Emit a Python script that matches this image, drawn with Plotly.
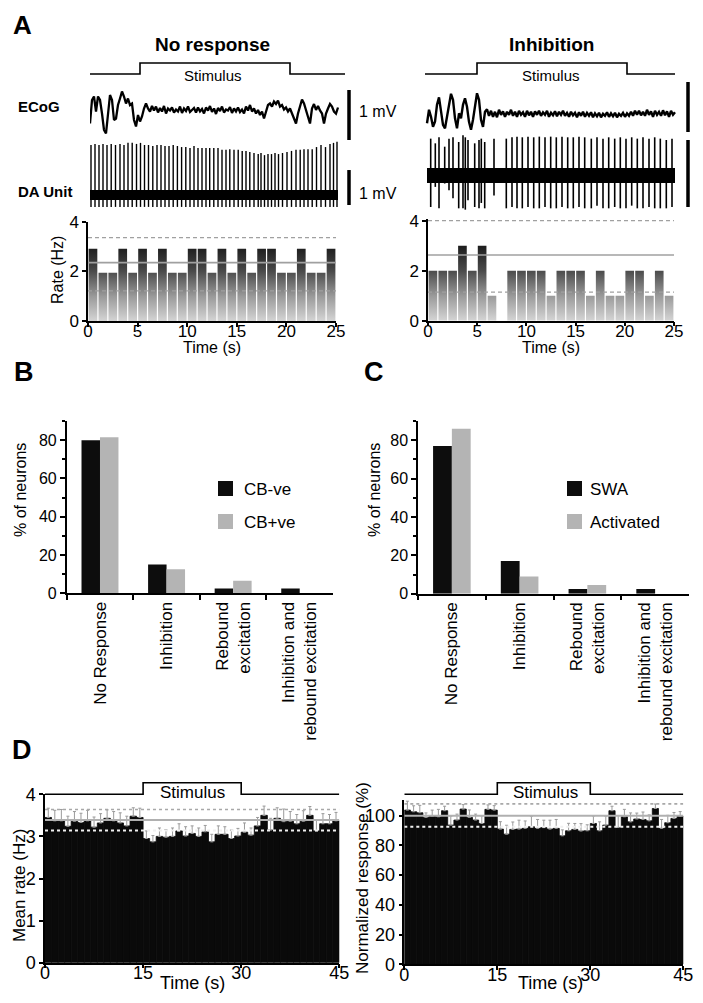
import numpy as np
import plotly.graph_objects as go

# Screen size of the photographed page and the figure size inside it
# (the page body keeps its default 8px margin).
SCR_W, SCR_H = 703, 1003
OFF = 8
FW, FH = SCR_W - 2 * OFF, SCR_H - 2 * OFF
FONT = "Liberation Sans, Arial, Helvetica, sans-serif"

# ---------------- Panel A data ----------------
stim_on_A = 5.0
stim_off_A = 20.0
stim_left_end = 25.5
stim_right_start = -0.2
stim_right_end = 24.8

ecog_dt = 0.2
ecog_left_mv = [
    -0.27, 0.20, 0.27, -0.03, 0.27, 0.20, -0.07, -0.40, -0.47, 0.00,
    0.30, 0.20, -0.20, -0.17, 0.10, 0.23, 0.37, 0.27, 0.13, 0.23,
    0.10, 0.13, -0.20, -0.33, -0.10, -0.23, -0.13, 0.03, 0.13, 0.03,
    -0.03, 0.08, -0.01, 0.07, -0.05, 0.04, -0.03, 0.08, -0.07, 0.03,
    -0.01, 0.05, -0.05, 0.01, -0.03, 0.07, -0.06, 0.03, -0.02, 0.07,
    -0.04, 0.00, 0.04, -0.05, 0.05, -0.03, 0.02, -0.07, 0.05, -0.01,
    0.08, -0.04, 0.03, -0.08, 0.04, -0.02, 0.07, -0.05, 0.01, -0.01,
    0.06, -0.06, 0.03, -0.03, 0.05, -0.04, 0.01, -0.07, 0.07, -0.01,
    0.10, -0.03, 0.03, -0.07, 0.00, -0.10, -0.03, -0.17, -0.03, 0.10,
    0.13, 0.07, 0.17, 0.12, 0.19, 0.07, 0.10, 0.01, 0.05, -0.03,
    0.03, -0.07, -0.19, -0.27, -0.07, 0.10, 0.21, 0.13, 0.00, -0.17,
    -0.27, 0.03, 0.12, 0.00, 0.08, -0.01, -0.07, -0.27, -0.07, 0.03,
    0.12, 0.07, -0.03, -0.07, 0.05,
]
ecog_right_mv = [
    -0.20, 0.07, -0.07, -0.27, -0.17, 0.17, 0.32, 0.07, -0.23, -0.30,
    -0.07, 0.20, 0.39, 0.27, -0.10, -0.30, 0.00, -0.10, 0.17, 0.30,
    0.13, -0.17, -0.33, -0.13, 0.13, 0.40, 0.27, -0.13, -0.27, 0.03,
    0.08, -0.05, 0.05, -0.07, 0.03, -0.08, 0.07, -0.03, 0.04, -0.07,
    0.03, -0.03, 0.07, -0.05, 0.03, -0.07, 0.05, -0.03, 0.02, -0.07,
    0.05, -0.04, 0.03, -0.07, 0.04, -0.03, 0.05, -0.05, 0.02, -0.03,
    0.05, -0.07, 0.01, -0.04, 0.04, -0.06, 0.03, -0.03, 0.05, -0.05,
    0.01, -0.07, 0.03, -0.04, 0.01, -0.08, 0.02, -0.05, 0.03, -0.07,
    0.01, -0.05, 0.02, -0.08, 0.00, -0.06, 0.01, -0.08, -0.01, -0.05,
    0.02, -0.07, 0.00, -0.06, 0.01, -0.08, -0.01, -0.05, 0.01, -0.07,
    0.00, -0.05, 0.03, -0.05, 0.05, -0.03, 0.05, -0.04, 0.03, -0.05,
    0.07, -0.03, 0.04, -0.07, 0.05, -0.03, 0.03, -0.05, 0.06, -0.04,
    0.04, -0.07, 0.05, -0.03, 0.02,
]

da_left_t = [
    0.10, 0.50, 0.90, 1.30, 1.70, 2.12, 2.55, 3.00, 3.40, 3.80,
    4.22, 4.65, 5.05, 5.45, 5.85, 6.28, 6.70, 7.10, 7.50, 7.90,
    8.32, 8.74, 9.16, 9.58, 10.00, 10.40, 10.80, 11.20, 11.60, 11.97,
    12.38, 12.80, 13.20, 13.60, 13.98, 14.40, 14.82, 15.22, 15.60, 15.98,
    16.40, 16.82, 17.10, 17.45, 17.80, 18.15, 18.50, 18.85, 19.25, 19.70,
    20.15, 20.60, 21.02, 21.40, 21.80, 22.22, 22.65, 23.10, 23.55, 24.00,
    24.35, 24.70,
]
da_left_top = [
    1.43, 1.46, 1.43, 1.46, 1.43, 1.46, 1.43, 1.46, 1.43, 1.49,
    1.49, 1.46, 1.49, 1.43, 1.43, 1.40, 1.43, 1.43, 1.40, 1.40,
    1.43, 1.40, 1.37, 1.37, 1.34, 1.40, 1.34, 1.34, 1.34, 1.34,
    1.34, 1.34, 1.29, 1.29, 1.31, 1.29, 1.29, 1.26, 1.26, 1.23,
    1.20, 1.17, 1.20, 1.14, 1.17, 1.17, 1.20, 1.17, 1.20, 1.23,
    1.26, 1.29, 1.29, 1.31, 1.31, 1.31, 1.37, 1.43, 1.37, 1.46,
    1.49, 1.52,
]
da_left_bottom = -0.34
da_left_end = 24.8

da_right_t = [
    0.37, 0.83, 1.20, 1.77, 2.20, 2.60, 3.17, 3.60, 3.83, 4.10,
    4.77, 5.20, 5.43, 5.77, 6.70, 7.93, 8.50, 9.00, 9.53, 10.10,
    10.67, 11.23, 11.80, 12.37, 12.93, 13.50, 14.07, 14.63, 15.20, 15.77,
    16.43, 17.00, 17.60, 18.17, 18.77, 19.33, 19.90, 20.47, 21.03, 21.60,
    22.20, 22.77, 23.33, 23.93, 24.50,
]
da_right_top = [
    0.55, 0.48, 0.57, 0.43, 0.55, 0.57, 0.50, 0.60, 0.57, 0.53,
    0.48, 0.53, 0.55, 0.50, 0.55, 0.55, 0.57, 0.58, 0.57, 0.58,
    0.57, 0.58, 0.57, 0.58, 0.57, 0.58, 0.57, 0.57, 0.58, 0.57,
    0.55, 0.57, 0.55, 0.57, 0.55, 0.57, 0.55, 0.57, 0.55, 0.57,
    0.55, 0.57, 0.55, 0.53, 0.55,
]
da_right_bottom = [
    -0.47, -0.17, -0.49, -0.12, -0.22, -0.34, -0.49, -0.49, -0.51, -0.37,
    -0.47, -0.49, -0.41, -0.49, -0.30, -0.49, -0.47, -0.49, -0.49, -0.47,
    -0.49, -0.49, -0.47, -0.49, -0.49, -0.47, -0.49, -0.49, -0.47, -0.49,
    -0.49, -0.45, -0.49, -0.49, -0.47, -0.49, -0.49, -0.45, -0.49, -0.49,
    -0.47, -0.49, -0.49, -0.49, -0.47,
]
da_right_end = 24.8
scale_bar_mv = 1.0

rate_left = [3, 2, 2, 3, 2, 3, 2, 3, 2, 2, 3, 3, 2, 3, 2, 3, 2, 3, 3, 2, 2, 3, 2, 2, 3]
rate_right = [2, 2, 2, 3, 2, 3, 1, 0, 2, 2, 2, 2, 1, 2, 2, 2, 1, 2, 1, 1, 2, 2, 1, 2, 1]
rate_left_scale = 0.97
rate_left_mean, rate_left_hi, rate_left_lo = 2.35, 3.36, 1.21
rate_right_mean, rate_right_hi, rate_right_lo = 2.63, 4.0, 1.14
rate_xticks = [0, 5, 10, 15, 20, 25]
rate_yticks = [0, 2, 4]

# ---------------- Panels B / C data ----------------
categories = ["No Response", "Inhibition", "Rebound<br>excitation",
              "Inhibition and<br>rebound excitation"]
cb_neg = [80.0, 15.0, 2.5, 2.5]
cb_pos = [81.5, 12.5, 6.5, 0.0]
swa = [77.0, 17.0, 2.5, 2.5]
activated = [86.0, 9.0, 4.5, 0.0]

# ---------------- Panel D data ----------------
stim_on_D = 15.0
stim_off_D = 30.0
stim_end_D = 45.0
d_rate = [3.45, 3.37, 3.37, 3.24, 3.36, 3.33, 3.37, 3.22, 3.32, 3.43,
          3.37, 3.32, 3.25, 3.48, 3.45, 2.95, 2.87, 3.00, 2.98, 3.00,
          3.13, 3.01, 3.07, 3.00, 3.11, 2.87, 3.05, 3.05, 2.95, 3.01,
          3.10, 3.03, 3.25, 3.50, 3.15, 3.43, 3.35, 3.36, 3.30, 3.36,
          3.50, 3.13, 3.30, 3.30, 3.37]
d_rate_err = [0.22, 0.25, 0.27, 0.24, 0.23, 0.22, 0.25, 0.24, 0.22, 0.20,
              0.22, 0.24, 0.23, 0.20, 0.22, 0.18, 0.15, 0.20, 0.18, 0.20,
              0.17, 0.22, 0.18, 0.20, 0.15, 0.18, 0.20, 0.18, 0.20, 0.18,
              0.22, 0.17, 0.20, 0.22, 0.28, 0.25, 0.30, 0.23, 0.22, 0.25,
              0.21, 0.26, 0.24, 0.22, 0.20]
d_rate_mean, d_rate_hi, d_rate_lo = 3.39, 3.64, 3.14
d_norm = [103.8, 102.7, 102.0, 98.9, 99.8, 99.3, 103.4, 93.7, 97.1, 104.5,
          98.9, 97.1, 94.8, 104.3, 103.8, 91.0, 87.6, 90.8, 91.0, 91.5,
          92.6, 91.5, 92.0, 91.0, 91.5, 86.5, 89.9, 90.8, 89.7, 89.9,
          94.8, 89.9, 93.7, 103.4, 92.1, 99.3, 95.9, 97.8, 97.5, 96.6,
          104.9, 91.5, 95.3, 98.2, 99.8]
d_norm_err = [6, 4, 5, 3, 4, 5, 3, 6, 4, 3, 5, 4, 5, 3, 3, 5, 6, 5, 6, 5,
              7, 6, 5, 6, 6, 4, 5, 4, 5, 4, 5, 6, 6, 3, 8, 5, 6, 4, 5, 4,
              3, 6, 5, 4, 3]
d_norm_mean, d_norm_hi, d_norm_lo = 100.0, 108.0, 92.6
d_xticks = [0, 15, 30, 45]


# ---------------- helpers (screen px -> paper fractions) ----------------
def fx(px):
    return (px - OFF) / FW


def fy(py):
    return 1 - (py - OFF) / FH


def dom_x(a, b):
    return [fx(a), fx(b)]


def dom_y(top, bottom):
    return [fy(bottom), fy(top)]


HID = dict(visible=False, showgrid=False, zeroline=False, fixedrange=True)
AX = dict(showline=True, linecolor="black", linewidth=1.5, ticks="outside",
          ticklen=5, tickwidth=1.5, tickcolor="black", showgrid=False,
          zeroline=False, fixedrange=True,
          tickfont=dict(size=17, color="black", family=FONT))

fig = go.Figure()


def line(x, y, xa, ya, color="black", width=1.5, dash=None):
    fig.add_trace(go.Scatter(x=x, y=y, xaxis=xa, yaxis=ya, mode="lines",
                             line=dict(color=color, width=width, dash=dash),
                             hoverinfo="skip", showlegend=False))


def stim_trace(t0, on, off, t1, xa, ya):
    line([t0, on, on, off, off, t1], [0, 0, 1, 1, 0, 0], xa, ya, width=1.6)


def spike_segments(ts, tops, bottoms):
    xs, ys = [], []
    for t, a, b in zip(ts, tops, bottoms):
        xs += [t, t, None]
        ys += [b, a, None]
    return xs, ys


def bar_polys(vals, gap=0.06):
    xs, ys = [], []
    for i, v in enumerate(vals):
        if v <= 0:
            continue
        xs += [i + gap, i + gap, i + 1 - gap, i + 1 - gap, i + gap, None]
        ys += [0, v, v, 0, 0, None]
    return xs, ys


# ---------------- Panel A traces ----------------
t_left = np.arange(len(ecog_left_mv)) * ecog_dt
t_right = np.arange(len(ecog_right_mv)) * ecog_dt

stim_trace(0, stim_on_A, stim_off_A, stim_left_end, "x", "y")
line(t_left, ecog_left_mv, "x", "y2", width=2.3)
line([25.9, 25.9], [-0.6, -0.6 + scale_bar_mv], "x", "y2", width=3.5)
line([0, da_left_end], [0, 0], "x", "y3", width=10)
sx, sy = spike_segments(da_left_t, da_left_top, [da_left_bottom] * len(da_left_t))
line(sx, sy, "x", "y3", width=1.4)
line([25.9, 25.9], [-0.286, -0.286 + scale_bar_mv], "x", "y3", width=3.5)

stim_trace(stim_right_start, stim_on_A, stim_off_A, stim_right_end, "x2", "y4")
line(t_right, ecog_right_mv, "x2", "y5", width=2.4)
line([26.1, 26.1], [-0.374, -0.374 + scale_bar_mv], "x2", "y5", width=3.5)
line([0, da_right_end], [0, 0], "x2", "y6", width=15)
sx, sy = spike_segments(da_right_t, da_right_top, da_right_bottom)
line(sx, sy, "x2", "y6", width=1.6)
line([26.1, 26.1], [-0.47, -0.47 + scale_bar_mv], "x2", "y6", width=3.5)

GRAD = dict(type="vertical", start=0, stop=3,
            colorscale=[[0, "#d4d4d4"], [0.33, "#9a9a9a"],
                        [0.67, "#4a4a4a"], [1, "#1c1c1c"]])

for vals, xa, ya, m, hi, lo in [
        ([v * rate_left_scale for v in rate_left], "x3", "y7",
         rate_left_mean, rate_left_hi, rate_left_lo),
        (rate_right, "x4", "y8", rate_right_mean, rate_right_hi, rate_right_lo)]:
    px_, py_ = bar_polys(vals)
    fig.add_trace(go.Scatter(x=px_, y=py_, xaxis=xa, yaxis=ya, mode="lines",
                             fill="toself", fillgradient=GRAD,
                             line=dict(width=0, color="rgba(0,0,0,0)"),
                             hoverinfo="skip", showlegend=False))
    line([0, 25], [m, m], xa, ya, color="#a0a0a0", width=1.6)
    line([0, 25], [hi, hi], xa, ya, color="#a0a0a0", width=1.2, dash="4px,3px")
    line([0, 25], [lo, lo], xa, ya, color="#a0a0a0", width=1.2, dash="4px,3px")

# ---------------- Panels B / C ----------------
for a, b, xa, ya in [(cb_neg, cb_pos, "x5", "y9"), (swa, activated, "x6", "y10")]:
    fig.add_trace(go.Bar(x=categories, y=a, xaxis=xa, yaxis=ya, offsetgroup="1",
                         marker=dict(color="#0d0d0d", line=dict(width=0)),
                         hoverinfo="skip", showlegend=False))
    fig.add_trace(go.Bar(x=categories, y=b, xaxis=xa, yaxis=ya, offsetgroup="2",
                         marker=dict(color="#b4b4b4", line=dict(width=0)),
                         hoverinfo="skip", showlegend=False))

# ---------------- Panel D ----------------
d_centers = np.arange(len(d_rate)) + 0.5
for vals, errs, xa, ya, ys, m, hi, lo in [
        (d_rate, d_rate_err, "x7", "y11", "y12", d_rate_mean, d_rate_hi, d_rate_lo),
        (d_norm, d_norm_err, "x8", "y13", "y14", d_norm_mean, d_norm_hi, d_norm_lo)]:
    fig.add_trace(go.Bar(x=d_centers, y=vals, width=1.0, xaxis=xa, yaxis=ya,
                         marker=dict(color="#0a0a0a", line=dict(width=0.8, color="#0a0a0a")),
                         error_y=dict(type="data", array=errs,
                                      arrayminus=[0] * len(errs), symmetric=False,
                                      color="#9a9a9a", thickness=1, width=1.5),
                         hoverinfo="skip", showlegend=False))
    line([0, 45], [m, m], xa, ya, color="#b0b0b0", width=2)
    line([0, 45], [hi, hi], xa, ya, color="#a8a8a8", width=1.6, dash="dot")
    line([0, 45], [lo, lo], xa, ya, color="#f0f0f0", width=2, dash="dot")
    stim_trace(0, stim_on_D, stim_off_D, stim_end_D, xa, ys)


# ---------------- layout ----------------
def ax(**kw):
    d = dict(AX)
    d.update(kw)
    return d


def hid(**kw):
    d = dict(HID)
    d.update(kw)
    return d


TF16 = dict(size=16, color="black", family=FONT)
TF17 = dict(size=17, color="black", family=FONT)
TF18 = dict(size=18, color="black", family=FONT)
MINOR = dict(ticks="outside", ticklen=3, tickwidth=1.5, tickcolor="black", dtick=10, tick0=0)

layout = dict(
    xaxis=hid(domain=dom_x(90, 400), range=[0, 31]),
    yaxis=hid(domain=dom_y(55, 80), range=[-0.545, 1.727], anchor="x"),
    yaxis2=hid(domain=dom_y(80, 145), range=[-0.7, 0.6], anchor="x"),
    yaxis3=hid(domain=dom_y(138, 215), range=[-0.571, 1.629], anchor="x"),
    xaxis2=hid(domain=dom_x(424, 695), range=[-0.3, 26.8]),
    yaxis4=hid(domain=dom_y(55, 80), range=[-0.545, 1.727], anchor="x2"),
    yaxis5=hid(domain=dom_y(80, 145), range=[-0.634, 0.666], anchor="x2"),
    yaxis6=hid(domain=dom_y(130, 215), range=[-0.5896, 0.679], anchor="x2"),

    xaxis3=ax(domain=dom_x(88, 336), range=[0, 25], tickvals=rate_xticks, anchor="y7",
              ticklen=4, ticklabelstandoff=-10),
    yaxis7=ax(domain=dom_y(221.7, 321), range=[0, 4], tickvals=rate_yticks, anchor="x3",
              ticklen=4),
    xaxis4=ax(domain=dom_x(428, 674), range=[0, 25], tickvals=rate_xticks, anchor="y8",
              ticklen=4, ticklabelstandoff=-10),
    yaxis8=ax(domain=dom_y(219.45, 320.7), range=[0, 4.05], tickvals=rate_yticks, anchor="x4",
              ticklen=4),

    xaxis5=ax(domain=dom_x(66.7, 333), type="category", tickson="boundaries",
              tickangle=-90, anchor="y9", range=[-0.5, 3.5], tickfont=TF17),
    yaxis9=ax(domain=dom_y(421, 593.3), range=[0, 90], tick0=0, dtick=20, anchor="x5",
              tickfont=TF16, minor=MINOR),
    xaxis6=ax(domain=dom_x(418, 689), type="category", tickson="boundaries",
              tickangle=-90, anchor="y10", range=[-0.5, 3.5], tickfont=TF17),
    yaxis10=ax(domain=dom_y(421, 593.7), range=[0, 90], tick0=0, dtick=20, anchor="x6",
               tickfont=TF16, minor=MINOR),

    xaxis7=ax(domain=dom_x(45, 339.3), range=[0, 45], tickvals=d_xticks, anchor="y11",
              tickfont=TF18, ticklen=4, ticklabelstandoff=-11),
    yaxis11=ax(domain=dom_y(794.3, 962.7), range=[0, 4], dtick=1, anchor="x7",
               tickfont=TF18, ticklen=4),
    yaxis12=hid(domain=dom_y(775, 800), range=[-0.49, 1.664], anchor="x7"),
    xaxis8=ax(domain=dom_x(404.3, 683.3), range=[0, 45], tickvals=d_xticks, anchor="y13",
              tickfont=TF18, ticklen=4, ticklabelstandoff=-11),
    yaxis13=ax(domain=dom_y(800, 964.3), range=[0, 110.6], tick0=0, dtick=20, anchor="x8",
               tickfont=TF18, ticklen=4),
    yaxis14=hid(domain=dom_y(775, 800), range=[-0.49, 1.664], anchor="x8"),
)


def ann(text, x, y, size=16, bold=False, xanchor="center", angle=0, yanchor="middle"):
    return dict(text=f"<b>{text}</b>" if bold else text, x=fx(x), y=fy(y),
                xref="paper", yref="paper", xanchor=xanchor, yanchor=yanchor,
                showarrow=False, textangle=angle,
                font=dict(size=size, color="black", family=FONT))


annotations = [
    ann("A", 22, 8, 26, True, yanchor="top"),
    ann("No response", 212, 45, 19, True),
    ann("Inhibition", 551, 45, 19, True),
    ann("Stimulus", 213, 75, 15),
    ann("Stimulus", 551, 75, 15),
    ann("ECoG", 16, 106, 15, True, "left"),
    ann("DA Unit", 16, 192, 15, True, "left"),
    ann("1 mV", 357, 112, 16, xanchor="left"),
    ann("1 mV", 357, 193, 16, xanchor="left"),
    ann("Rate (Hz)", 57, 270, 16, angle=-90),
    ann("Time (s)", 212, 347, 16),
    ann("Time (s)", 551, 347, 16),
    ann("B", 24, 372, 27, True),
    ann("C", 374, 372, 27, True),
    ann("% of neurons", 20, 490, 16, angle=-90),
    ann("% of neurons", 374, 490, 16, angle=-90),
    ann("CB-ve", 242, 489, 17, xanchor="left"),
    ann("CB+ve", 242, 522, 17, xanchor="left"),
    ann("SWA", 588, 489, 17, xanchor="left"),
    ann("Activated", 588, 522, 17, xanchor="left"),
    ann("D", 22, 750, 27, True),
    ann("Stimulus", 192, 792, 17),
    ann("Stimulus", 545, 792, 17),
    ann("Mean rate (Hz)", 19, 886, 17, angle=-90),
    ann("Normalized response (%)", 362, 878, 17, angle=-90),
    ann("Time (s)", 192, 983, 18),
    ann("Time (s)", 550, 983, 18),
]


def swatch(x0, y0, color):
    return dict(type="rect", xref="paper", yref="paper", x0=fx(x0), x1=fx(x0 + 15),
                y0=fy(y0 + 15), y1=fy(y0), fillcolor=color, line=dict(width=0))


shapes = [swatch(218, 481, "#0d0d0d"), swatch(218, 514, "#b4b4b4"),
          swatch(567, 481, "#0d0d0d"), swatch(567, 514, "#b4b4b4")]

fig.update_layout(
    width=FW, height=FH, margin=dict(l=0, r=0, t=0, b=0, pad=0, autoexpand=False),
    paper_bgcolor="white", plot_bgcolor="rgba(0,0,0,0)",
    font=dict(family=FONT, color="black"),
    barmode="group", bargap=0.445, bargroupgap=0,
    showlegend=False, annotations=annotations, shapes=shapes,
    **layout,
)

fig.write_html("out.html")
